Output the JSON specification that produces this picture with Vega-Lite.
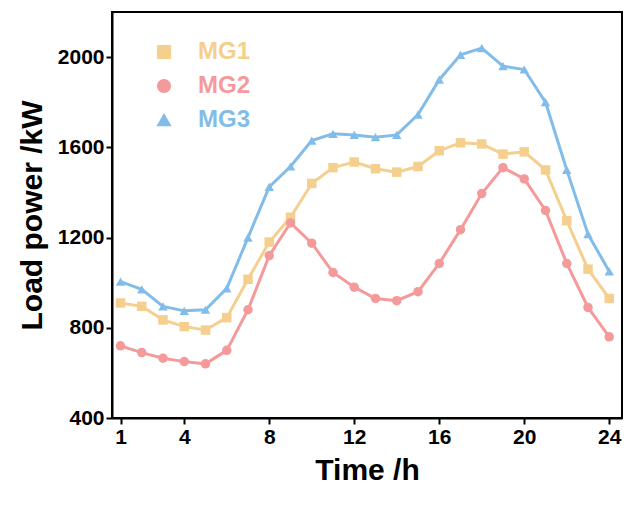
{
  "$schema": "https://vega.github.io/schema/vega-lite/v6.json",
  "width": 510,
  "height": 406,
  "autosize": "none",
  "padding": {"left": 112, "top": 12, "right": 12, "bottom": 93},
  "background": "white",
  "config": {
    "font": "Liberation Sans",
    "view": {"stroke": "black", "strokeWidth": 2},
    "axis": {"grid": false, "domainColor": "black", "domainWidth": 2, "tickColor": "black", "tickWidth": 2, "tickSize": 6, "labelFontSize": 21, "labelFontWeight": "bold", "labelColor": "black", "titleFontSize": 30, "titleFontWeight": "bold", "titleColor": "black", "labelFlush": false}
  },
  "data": {"values": [
    {"t":1,"s":"MG1","v":910},{"t":2,"s":"MG1","v":895},{"t":3,"s":"MG1","v":835},{"t":4,"s":"MG1","v":805},{"t":5,"s":"MG1","v":790},{"t":6,"s":"MG1","v":845},{"t":7,"s":"MG1","v":1015},{"t":8,"s":"MG1","v":1180},{"t":9,"s":"MG1","v":1290},{"t":10,"s":"MG1","v":1440},{"t":11,"s":"MG1","v":1510},{"t":12,"s":"MG1","v":1535},{"t":13,"s":"MG1","v":1505},{"t":14,"s":"MG1","v":1490},{"t":15,"s":"MG1","v":1515},{"t":16,"s":"MG1","v":1585},{"t":17,"s":"MG1","v":1620},{"t":18,"s":"MG1","v":1615},{"t":19,"s":"MG1","v":1570},{"t":20,"s":"MG1","v":1580},{"t":21,"s":"MG1","v":1500},{"t":22,"s":"MG1","v":1275},{"t":23,"s":"MG1","v":1060},{"t":24,"s":"MG1","v":930},
    {"t":1,"s":"MG2","v":720},{"t":2,"s":"MG2","v":690},{"t":3,"s":"MG2","v":665},{"t":4,"s":"MG2","v":650},{"t":5,"s":"MG2","v":640},{"t":6,"s":"MG2","v":700},{"t":7,"s":"MG2","v":880},{"t":8,"s":"MG2","v":1120},{"t":9,"s":"MG2","v":1265},{"t":10,"s":"MG2","v":1175},{"t":11,"s":"MG2","v":1045},{"t":12,"s":"MG2","v":980},{"t":13,"s":"MG2","v":930},{"t":14,"s":"MG2","v":920},{"t":15,"s":"MG2","v":960},{"t":16,"s":"MG2","v":1085},{"t":17,"s":"MG2","v":1235},{"t":18,"s":"MG2","v":1395},{"t":19,"s":"MG2","v":1510},{"t":20,"s":"MG2","v":1460},{"t":21,"s":"MG2","v":1320},{"t":22,"s":"MG2","v":1085},{"t":23,"s":"MG2","v":890},{"t":24,"s":"MG2","v":760},
    {"t":1,"s":"MG3","v":1005},{"t":2,"s":"MG3","v":970},{"t":3,"s":"MG3","v":895},{"t":4,"s":"MG3","v":875},{"t":5,"s":"MG3","v":880},{"t":6,"s":"MG3","v":975},{"t":7,"s":"MG3","v":1200},{"t":8,"s":"MG3","v":1425},{"t":9,"s":"MG3","v":1515},{"t":10,"s":"MG3","v":1630},{"t":11,"s":"MG3","v":1660},{"t":12,"s":"MG3","v":1655},{"t":13,"s":"MG3","v":1645},{"t":14,"s":"MG3","v":1655},{"t":15,"s":"MG3","v":1745},{"t":16,"s":"MG3","v":1900},{"t":17,"s":"MG3","v":2010},{"t":18,"s":"MG3","v":2040},{"t":19,"s":"MG3","v":1960},{"t":20,"s":"MG3","v":1945},{"t":21,"s":"MG3","v":1800},{"t":22,"s":"MG3","v":1500},{"t":23,"s":"MG3","v":1215},{"t":24,"s":"MG3","v":1050}
  ]},
  "mark": {"type": "line", "strokeWidth": 3, "point": {"size": 90, "filled": true, "opacity": 1}},
  "encoding": {
    "x": {"field": "t", "type": "quantitative", "title": "Time /h",
      "scale": {"domain": [0.6, 24.6], "nice": false, "zero": false},
      "axis": {"values": [1,4,8,12,16,20,24], "titlePadding": 8}},
    "y": {"field": "v", "type": "quantitative", "title": "Load power /kW",
      "scale": {"domain": [400, 2200], "nice": false, "zero": false},
      "axis": {"values": [400,800,1200,1600,2000], "format": "d", "titlePadding": 10}},
    "color": {"field": "s", "type": "nominal", "title": null,
      "scale": {"domain": ["MG1","MG2","MG3"], "range": ["#f5cf8e","#f59a9a","#82bce8"]},
      "legend": {"orient": "none", "legendX": 40, "legendY": 28, "labelFontSize": 24, "labelFontWeight": "bold", "symbolSize": 160, "labelOffset": 22, "rowPadding": 10,
        "encode": {"labels": {"update": {"fill": {"signal": "datum.value === 'MG1' ? '#f5cf8e' : datum.value === 'MG2' ? '#f59a9a' : '#82bce8'"}}}}}},
    "shape": {"field": "s", "type": "nominal",
      "scale": {"domain": ["MG1","MG2","MG3"], "range": ["square","circle","triangle-up"]}}
  }
}
